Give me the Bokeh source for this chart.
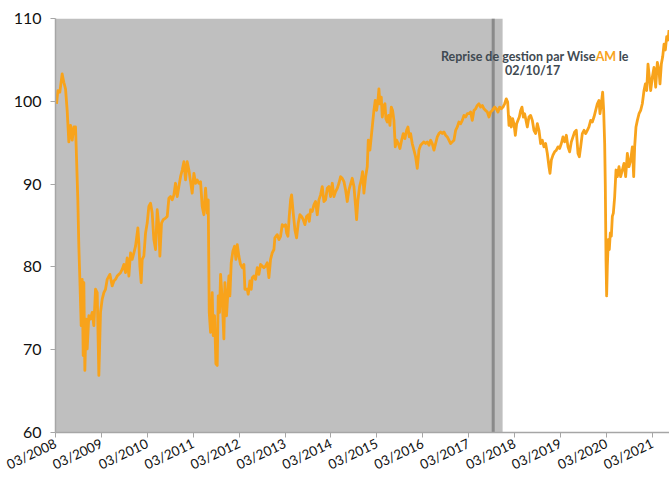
import numpy as np
from bokeh.plotting import figure
from bokeh.models import BoxAnnotation, Span, Range1d, FixedTicker, Label
from bokeh.embed import file_html
from bokeh.resources import INLINE

# ---- data (decimal years, index values) ----
dates = [
    2008.189, 2008.218, 2008.261, 2008.312, 2008.348, 2008.385, 2008.421, 2008.457, 2008.494, 2008.530,
    2008.566, 2008.603, 2008.624, 2008.653, 2008.675, 2008.697, 2008.726, 2008.748, 2008.770, 2008.784,
    2008.806, 2008.835, 2008.857, 2008.893, 2008.929, 2008.966, 2009.002, 2009.038, 2009.075, 2009.111,
    2009.147, 2009.184, 2009.220, 2009.256, 2009.293, 2009.351, 2009.401, 2009.438, 2009.474, 2009.510,
    2009.583, 2009.619, 2009.656, 2009.692, 2009.728, 2009.765, 2009.801, 2009.837, 2009.874, 2009.910,
    2009.961, 2009.982, 2010.004, 2010.033, 2010.055, 2010.091, 2010.128, 2010.164, 2010.200, 2010.237,
    2010.273, 2010.309, 2010.346, 2010.382, 2010.418, 2010.440, 2010.476, 2010.513, 2010.563, 2010.600,
    2010.636, 2010.672, 2010.709, 2010.745, 2010.781, 2010.818, 2010.854, 2010.890, 2010.927, 2010.963,
    2010.999, 2011.035, 2011.072, 2011.108, 2011.144, 2011.181, 2011.217, 2011.253, 2011.290,
    2011.326, 2011.362, 2011.399, 2011.435, 2011.471, 2011.493, 2011.515, 2011.544, 2011.580, 2011.602,
    2011.631, 2011.660, 2011.689, 2011.711, 2011.740, 2011.762, 2011.798, 2011.834, 2011.856, 2011.892,
    2011.921, 2011.943, 2011.965, 2011.994, 2012.030, 2012.067, 2012.096, 2012.125, 2012.161, 2012.197,
    2012.234, 2012.270, 2012.292, 2012.343, 2012.364, 2012.401, 2012.430, 2012.452, 2012.488, 2012.524,
    2012.561, 2012.597, 2012.633, 2012.669, 2012.706, 2012.742, 2012.778, 2012.815, 2012.851, 2012.887,
    2012.924, 2012.945, 2012.996, 2013.033, 2013.069, 2013.105, 2013.142, 2013.178, 2013.200, 2013.229,
    2013.258, 2013.287, 2013.309, 2013.345, 2013.381, 2013.418, 2013.454, 2013.490, 2013.526, 2013.563,
    2013.599, 2013.635, 2013.672, 2013.694, 2013.723, 2013.759, 2013.795, 2013.831, 2013.868, 2013.904,
    2013.940, 2013.977, 2014.013, 2014.049, 2014.086, 2014.122, 2014.158, 2014.195, 2014.231, 2014.267,
    2014.304, 2014.340, 2014.376, 2014.412, 2014.449, 2014.485, 2014.521, 2014.558,
    2014.630, 2014.667, 2014.703, 2014.725, 2014.754, 2014.790, 2014.826, 2014.855, 2014.884, 2014.921,
    2014.957, 2014.979, 2015.015, 2015.044, 2015.073, 2015.102, 2015.131, 2015.160, 2015.190, 2015.211,
    2015.233, 2015.262, 2015.284, 2015.320, 2015.342, 2015.364, 2015.393, 2015.422, 2015.451, 2015.480,
    2015.509, 2015.538, 2015.567, 2015.596, 2015.633, 2015.669, 2015.705, 2015.741, 2015.778, 2015.814,
    2015.843, 2015.872, 2015.901, 2015.937, 2015.974, 2016.010, 2016.046, 2016.083, 2016.119, 2016.155,
    2016.192, 2016.228, 2016.264, 2016.301, 2016.337, 2016.373, 2016.410, 2016.446, 2016.482, 2016.518,
    2016.555, 2016.591, 2016.627, 2016.664, 2016.700, 2016.736, 2016.773, 2016.809, 2016.845, 2016.882,
    2016.918, 2016.954, 2016.991, 2017.027, 2017.063, 2017.099, 2017.136, 2017.172, 2017.208, 2017.245,
    2017.281, 2017.317, 2017.354, 2017.390, 2017.426, 2017.463, 2017.499, 2017.535, 2017.572, 2017.608,
    2017.644, 2017.681, 2017.731, 2017.768, 2017.804, 2017.840, 2017.877, 2017.913, 2017.949, 2017.985,
    2018.015, 2018.044,
    2018.065, 2018.094, 2018.123, 2018.152, 2018.182, 2018.211, 2018.240, 2018.269, 2018.298, 2018.327,
    2018.356, 2018.385, 2018.414, 2018.443, 2018.479, 2018.516, 2018.552, 2018.588, 2018.625, 2018.661,
    2018.697, 2018.733, 2018.770, 2018.806, 2018.842, 2018.879, 2018.915, 2018.937, 2018.966, 2019.002,
    2019.038, 2019.075, 2019.111, 2019.147, 2019.184, 2019.220, 2019.256, 2019.293, 2019.329, 2019.365,
    2019.402, 2019.438, 2019.474, 2019.510, 2019.547, 2019.576, 2019.605, 2019.641, 2019.678, 2019.714,
    2019.750, 2019.786, 2019.823, 2019.859, 2019.895, 2019.932, 2019.968, 2020.004, 2020.026, 2020.055,
    2020.084, 2020.106, 2020.128, 2020.142, 2020.157, 2020.171, 2020.186, 2020.208, 2020.229, 2020.251,
    2020.273, 2020.295, 2020.317, 2020.346, 2020.375, 2020.404, 2020.440, 2020.476, 2020.513, 2020.549,
    2020.585, 2020.622, 2020.658, 2020.694, 2020.731, 2020.760, 2020.781, 2020.810, 2020.840, 2020.876,
    2020.912, 2020.948, 2020.985, 2021.014, 2021.043, 2021.072, 2021.101, 2021.130, 2021.166, 2021.203,
    2021.239, 2021.275, 2021.312, 2021.333, 2021.362, 2021.392, 2021.421, 2021.450, 2021.479, 2021.508,
    2021.530,
]
values = [
    99.7, 101.3, 101.1, 103.3, 102.3, 101.5, 98.9, 95.1, 97.1, 95.3,
    96.9, 96.9, 93.3, 88.1, 82.5, 78.5, 72.9, 78.5, 69.3, 78.1,
    67.5, 73.7, 70.1, 74.1, 73.7, 74.5, 72.9, 77.3, 76.9, 66.9,
    74.5, 76.1, 76.9, 77.3, 78.5, 79.1, 77.7, 78.3, 78.5, 78.9,
    79.3, 79.7, 80.3, 79.3, 81.1, 78.9, 81.7, 80.9, 81.7, 82.5,
    84.7, 82.9, 80.1, 78.1, 80.9, 81.3, 84.1, 85.3, 87.3, 87.7,
    86.5, 83.3, 82.1, 86.9, 84.9, 81.3, 85.3, 85.7, 85.9, 86.1,
    88.3, 88.5, 88.1, 88.7, 90.1, 88.5, 89.7, 90.9, 91.7, 92.7,
    90.5, 92.7, 91.7, 90.3, 88.9, 91.3, 90.1, 90.5, 90.1,
    90.3, 87.3, 86.3, 89.5, 86.5, 88.1, 74.5, 72.1, 76.9, 71.7,
    74.1, 68.3, 68.1, 76.5, 74.5, 79.1, 76.1, 71.3, 78.1, 74.1,
    76.9, 78.9, 76.5, 80.5, 81.9, 82.5, 80.9, 82.7, 81.3, 80.3,
    79.9, 80.3, 77.3, 77.3, 76.7, 78.3, 77.3, 78.7, 78.9, 78.5,
    79.9, 79.1, 80.3, 80.1, 79.9, 80.1, 80.5, 78.7, 80.9, 81.7,
    82.1, 83.5, 83.9, 83.3, 83.7, 85.1, 84.9, 85.1, 84.1, 83.7,
    86.1, 88.1, 88.7, 86.5, 84.5, 83.5, 85.3, 86.3, 86.1, 85.7,
    85.1, 86.1, 86.3, 85.5, 86.9, 86.7, 87.5, 87.9, 86.3, 88.1,
    88.7, 89.7, 87.9, 88.1, 89.5, 89.7, 88.5, 90.1, 88.5, 89.1,
    89.5, 90.1, 90.9, 90.7, 90.3, 89.3, 87.9, 89.3,
    90.7, 89.7, 87.3, 85.7, 88.1, 89.7, 90.5, 91.5, 88.9, 90.9,
    92.1, 95.3, 94.1, 95.7, 97.3, 98.9, 100.1, 98.9, 100.1, 101.5,
    99.7, 100.5, 98.1, 99.5, 99.7, 97.9, 97.5, 98.3, 97.1, 99.3,
    98.9, 97.7, 94.5, 95.3, 94.9, 94.3, 95.3, 96.1, 95.5, 96.5,
    96.9, 95.7, 96.1, 94.9, 94.1, 93.3, 91.9, 94.1, 94.7, 94.9,
    95.1, 94.9, 95.1, 94.7, 95.3, 94.9, 94.1, 94.9, 95.7, 96.1,
    96.3, 96.1, 96.3, 95.9, 95.7, 95.3, 94.9, 95.1, 95.3, 96.5,
    96.9, 97.5, 97.3, 97.7, 98.3, 98.1, 98.5, 98.5, 98.7, 97.7,
    98.9, 99.1, 99.5, 99.7, 99.3, 99.5, 99.1, 98.9, 98.7, 98.1,
    98.7, 98.9, 99.3, 99.1, 98.7, 99.3, 99.1, 99.3, 99.7, 100.3,
    99.9, 97.1,
    98.1, 96.9, 97.9, 97.3, 95.9, 97.3, 97.7, 98.1, 98.9, 99.3,
    98.1, 98.5, 97.7, 96.9, 98.1, 98.3, 97.7, 96.5, 96.1, 97.3,
    96.5, 94.9, 95.3, 94.5, 94.9, 93.7, 92.1, 91.3, 92.9, 93.5,
    93.9, 94.1, 94.5, 94.3, 94.9, 95.7, 95.1, 95.9, 94.5, 93.9,
    95.1, 95.7, 96.3, 96.5, 93.7, 93.3, 94.5, 96.1, 96.5, 96.1,
    96.5, 96.9, 97.7, 97.5, 98.1, 98.9, 99.7, 100.1, 98.5, 99.7,
    101.1, 98.9, 94.9, 89.7, 80.9, 76.5, 80.1, 83.3, 82.1, 84.1,
    83.7, 86.1, 86.5, 88.5, 91.7, 90.9, 92.1, 90.9, 91.7, 92.5,
    90.9, 93.7, 92.1, 92.9, 94.5, 90.9, 94.5, 96.9, 97.7, 98.5,
    98.9, 99.7, 101.3, 102.1, 101.3, 104.5, 102.9, 101.3, 102.9, 104.1,
    101.7, 104.7, 103.7, 102.1, 104.5, 105.4, 106.9, 106.2, 107.8, 107.4,
    108.6,
]

tick_years = list(range(2008, 2022))
tick_labels = [f"03/{y}" for y in tick_years]
y_ticks = [60, 70, 80, 90, 100, 110]

axis_start = 2008 + 2 / 12      # 03/2008
axis_end = 2021.54
takeover_date = 2017.70          # 02/10/17
shade_end = 2017.905
annot_date = 2018.56             # horizontal centre of the note

annot_line1 = "Reprise de gestion par Wise"
annot_brand = "AM"
annot_suffix = "le"
annot_line2 = "02/10/17"


def to_month(t):
    return (np.asarray(t, dtype=float) - axis_start) * 12.0


ORANGE = "#F8A31B"
GREY_BG = "#BFBFBF"
TXT = "#3F4A52"
FONT = "Lato"

x = to_month(dates)
xmax = float(to_month(axis_end))

p = figure(width=669, height=482, output_backend="svg", toolbar_location=None,
           x_range=Range1d(0, xmax), y_range=Range1d(60, 110),
           min_border_left=55, min_border_top=18, min_border_right=0, min_border_bottom=48)
p.outline_line_color = None
p.grid.visible = False
p.background_fill_color = "white"

box = BoxAnnotation(left=0, right=float(to_month(shade_end)), fill_color=GREY_BG, fill_alpha=1.0,
                    line_alpha=0, level="underlay")
p.add_layout(box)
vline = Span(location=float(to_month(takeover_date)), dimension="height", line_color="#8A8A8A",
             line_width=3, level="underlay")
p.add_layout(vline)

p.line(x, values, line_color=ORANGE, line_width=2.8, line_join="round")

# axes
xt = [int(v) for v in np.round(to_month([y + 2 / 12 for y in tick_years]))]
p.xaxis.ticker = FixedTicker(ticks=xt)
p.xaxis.major_label_overrides = {t: lab for t, lab in zip(xt, tick_labels)}
p.xaxis.major_label_orientation = 0.44
p.yaxis.ticker = FixedTicker(ticks=y_ticks)
for ax in (p.xaxis, p.yaxis):
    ax.axis_line_color = "#A6A6A6"
    ax.axis_line_width = 1.5
    ax.major_tick_line_color = "#A6A6A6"
    ax.major_tick_in = 0
    ax.major_tick_out = 5
    ax.minor_tick_line_color = None
    ax.major_label_text_font = FONT
    ax.major_label_text_color = "#111111"
p.yaxis.major_label_text_font_size = "16px"
p.yaxis.major_label_standoff = 9
p.xaxis.major_label_text_font_size = "13.5px"
p.xaxis.major_label_standoff = 5

# annotation
ax_c = float(to_month(annot_date))
common = dict(text_font=FONT, text_font_size="12.5px", text_font_style="bold", text_baseline="middle")
p.add_layout(Label(x=ax_c, y=105.4, x_offset=63, text=annot_line1, text_align="right",
                   text_color=TXT, **common))
p.add_layout(Label(x=ax_c, y=105.4, x_offset=63, text=annot_brand, text_align="left",
                   text_color=ORANGE, **common))
p.add_layout(Label(x=ax_c, y=105.4, x_offset=86, text=annot_suffix, text_align="left",
                   text_color=TXT, **common))
p.add_layout(Label(x=ax_c, y=103.75, x_offset=0, text=annot_line2, text_align="center",
                   text_color=TXT, **common))

open("out.html", "w").write(file_html(p, INLINE))
